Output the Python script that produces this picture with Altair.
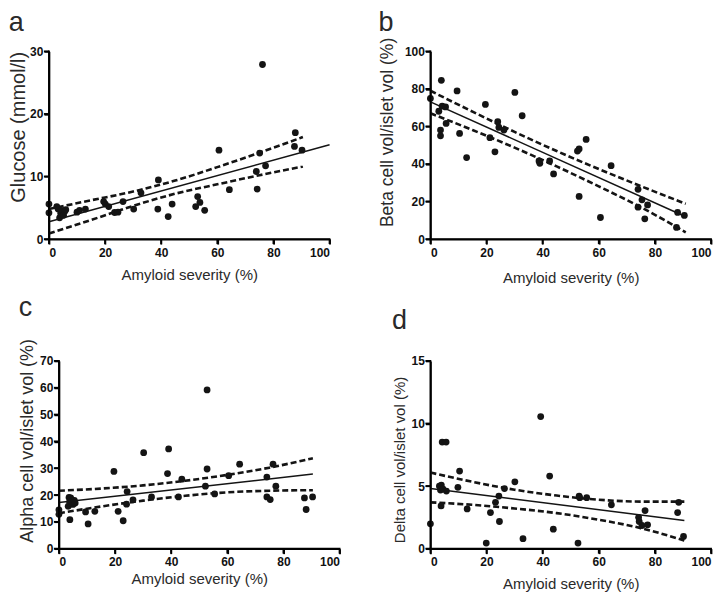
import altair as alt
import pandas as pd

FONT = "Liberation Sans"
INK = "#141414"

# ---------------- panel a : glucose ----------------
a_x = [0, 0, 2.8, 3.3, 3.8, 4.2, 4.5, 5.2, 5.6, 6.0, 10.0, 10.9, 13.0, 19.5, 20.1, 21.3,
       23.4, 24.6, 26.4, 30.2, 32.8, 38.8, 39.0, 42.5, 43.9, 52.3, 53.0, 53.8, 55.5,
       60.6, 64.3, 73.9, 74.2, 75.1, 76.1, 77.2, 87.5, 87.8, 90.2]
a_y = [5.6, 4.2, 5.2, 4.8, 3.4, 4.1, 4.6, 3.8, 4.4, 4.7, 4.3, 4.6, 4.8, 6.0, 5.6, 5.2,
       4.25, 4.3, 6.0, 4.8, 7.4, 4.8, 9.45, 3.6, 5.6, 5.2, 6.8, 5.85, 4.6,
       14.2, 7.9, 10.8, 8.0, 13.75, 27.9, 11.7, 14.8, 17.0, 14.2]
a_fit_x = [0, 100]
a_fit_y = [2.76, 15.06]
a_band_x = [0, 15, 30, 45, 60, 75, 90.5]
a_upper = [4.8, 6.2, 7.6, 9.35, 11.5, 13.8, 16.3]
a_lower = [0.9, 3.05, 5.3, 7.25, 8.75, 10.2, 11.6]

# ---------------- panel b : beta cells ----------------
b_x = [0, 3.9, 3.0, 4.2, 5.4, 3.6, 3.6, 5.6, 9.5, 10.4, 12.9, 19.6, 21.2, 23.0, 24.0,
       24.4, 26.2, 30.1, 32.7, 38.7, 39.0, 42.5, 43.9, 52.4, 53.0, 55.5, 53.0, 60.6,
       64.4, 74.0, 74.0, 75.4, 76.4, 77.4, 88.1, 87.7, 90.5]
b_y = [74.9, 84.6, 68.1, 70.8, 70.4, 58.1, 55.0, 61.6, 78.9, 56.3, 43.4, 71.7, 54.0,
       46.5, 62.5, 59.5, 58.1, 78.1, 65.7, 41.6, 40.4, 41.6, 34.7, 46.9, 48.0, 53.1,
       22.7, 11.5, 39.1, 26.5, 17.0, 20.9, 10.8, 18.2, 14.2, 6.2, 12.6]
b_fit_x = [0, 91]
b_fit_y = [73.1, 11.9]
b_band_x = [0, 15, 30, 45, 60, 75, 91]
b_upper = [79.0, 67.9, 57.1, 46.9, 37.3, 28.2, 18.8]
b_lower = [67.0, 58.1, 48.7, 38.7, 28.1, 17.0, 3.6]

# ---------------- panel c : alpha cells ----------------
c_x = [0, 0, 3.3, 3.6, 3.8, 4.2, 4.5, 5.0, 5.5, 5.8, 3.9, 9.5, 10.4, 12.8, 19.6, 21.1,
       22.9, 24.3, 24.1, 26.4, 30.2, 33.0, 38.7, 39.1, 42.6, 43.8, 52.8, 52.8, 52.2,
       55.5, 60.5, 64.4, 74.1, 74.1, 75.3, 76.3, 77.3, 87.5, 88.1, 90.4]
c_y = [14.5, 12.8, 15.8, 19.1, 17.4, 18.9, 17.5, 16.5, 18.0, 17.0, 10.8, 13.7, 9.2,
       13.9, 28.8, 13.9, 10.4, 21.3, 16.6, 18.2, 35.8, 19.3, 28.0, 37.2, 19.3, 25.9,
       59.2, 29.7, 23.3, 20.4, 27.2, 31.5, 26.7, 19.3, 18.3, 31.5, 23.3, 18.9, 14.6, 19.3]
c_fit_x = [0, 90.5]
c_fit_y = [17.25, 27.8]
c_band_x = [0, 15, 30, 45, 60, 75, 90.5]
c_upper = [21.6, 22.4, 23.6, 25.3, 27.5, 30.2, 33.7]
c_lower = [13.2, 15.7, 17.9, 19.7, 21.0, 21.6, 21.8]

# ---------------- panel d : delta cells ----------------
d_x = [0, 4.2, 5.6, 3.2, 3.9, 3.6, 4.5, 5.7, 3.8, 9.8, 10.4, 13.1, 19.9, 21.4, 23.2,
       24.4, 24.6, 26.4, 30.1, 33.0, 39.3, 42.5, 43.8, 52.6, 53.0, 53.2, 55.7, 64.5,
       74.2, 74.4, 75.4, 76.5, 77.4, 88.1, 88.5, 90.2]
d_y = [1.98, 8.52, 8.52, 5.0, 5.08, 4.68, 4.76, 4.6, 3.41, 4.9, 6.2, 3.17, 0.45, 2.88,
       3.7, 4.2, 2.17, 4.8, 5.34, 0.8, 10.55, 5.8, 1.56, 0.45, 4.2, 4.07, 4.07, 3.5,
       2.5, 2.17, 1.85, 3.04, 1.9, 2.88, 3.7, 0.98]
d_fit_x = [0, 90.5]
d_fit_y = [4.81, 2.25]
d_band_x = [0, 15, 30, 45, 60, 75, 90.5]
d_upper = [6.08, 5.34, 4.71, 4.24, 3.91, 3.76, 3.76]
d_lower = [3.70, 3.50, 3.21, 2.84, 2.31, 1.64, 0.65]

x_ticks = [0, 20, 40, 60, 80, 100]
x_title = "Amyloid severity (%)"
HEIGHT = 188
TICK = 5
LW = 1.8

AXIS_COMMON = dict(domain=True, ticks=True, domainColor="#000000", domainWidth=LW,
                   tickColor="#000000", tickWidth=LW, tickSize=TICK, grid=False)


def panel(letter, px, py, fx, fy, bx, up, lo, ymax, ystep, ytitle, ytsize, ytitle_y,
          ytpad, xtpad, title_offset, shift=0):
    width = 281 + shift
    y_ticks = list(range(0, ymax + 1, ystep))
    xs_kw = dict(domain=[0, 100], nice=False)
    if shift:
        xs_kw["range"] = [shift, width]
    xs = alt.Scale(**xs_kw)
    ys = alt.Scale(domain=[0, ymax], nice=False)
    yax_kw = dict(values=y_ticks, title=ytitle, titleFontSize=ytsize, titleY=ytitle_y,
                  titlePadding=ytpad, labelPadding=1, **AXIS_COMMON)
    if shift:
        yax_kw["offset"] = -shift
    X = alt.X("x:Q", scale=xs,
              axis=alt.Axis(values=x_ticks, title=x_title, titlePadding=xtpad,
                            labelPadding=3, **AXIS_COMMON))
    Y = alt.Y("y:Q", scale=ys, axis=alt.Axis(**yax_kw))

    # axis lines and tick marks, also drawn as marks through the same scales
    xdom = alt.Chart(pd.DataFrame({"x": [0, 100], "y": [0, 0]})).mark_line(
        color="#000000", strokeWidth=LW, strokeCap="square").encode(x=X, y=Y)
    ydom = alt.Chart(pd.DataFrame({"x": [0, 0], "y": [0, ymax]})).mark_line(
        color="#000000", strokeWidth=LW, strokeCap="square").encode(x=X, y=Y)
    xtk = alt.Chart(pd.DataFrame({"x": x_ticks})).mark_tick(
        color="#000000", orient="vertical", size=TICK, thickness=LW, opacity=1
    ).encode(x=X, y=alt.value(HEIGHT + TICK / 2))
    ytk = alt.Chart(pd.DataFrame({"y": y_ticks})).mark_tick(
        color="#000000", orient="horizontal", size=TICK, thickness=LW, opacity=1
    ).encode(y=Y, x=alt.value(shift - TICK / 2))

    n = len(bx)
    band = alt.Chart(pd.DataFrame({"x": bx + bx, "y": up + lo,
                                   "g": ["upper"] * n + ["lower"] * n})).mark_line(
        color=INK, strokeWidth=2.6, strokeDash=[6, 3], interpolate="monotone"
    ).encode(x=X, y=Y, detail="g:N")
    fit = alt.Chart(pd.DataFrame({"x": fx, "y": fy})).mark_line(
        color=INK, strokeWidth=1.5).encode(x=X, y=Y)
    pts = alt.Chart(pd.DataFrame({"x": px, "y": py})).mark_circle(
        size=46, color=INK, opacity=1).encode(x=X, y=Y)
    return alt.layer(band, fit, pts, xdom, ydom, xtk, ytk).properties(
        width=width, height=HEIGHT, title=alt.Title(letter, offset=title_offset))


pa = panel("a", a_x, a_y, a_fit_x, a_fit_y, a_band_x, a_upper, a_lower, 30, 10,
           "Glucose (mmol/l)", 20, 75.5, 1, 9, 8.4)
pb = panel("b", b_x, b_y, b_fit_x, b_fit_y, b_band_x, b_upper, b_lower, 100, 20,
           "Beta cell vol/islet vol (%)", 17.5, 80.7, 8, 12, 0.1)
pc = panel("c", c_x, c_y, c_fit_x, c_fit_y, c_band_x, c_upper, c_lower, 70, 10,
           "Alpha cell vol/islet vol (%)", 18, 79.5, 3, 4, 16, shift=10)
pd_ = panel("d", d_x, d_y, d_fit_x, d_fit_y, d_band_x, d_upper, d_lower, 15, 5,
            "Delta cell vol/islet vol (%)", 15, 98.7, 4, 9, 20)

chart = alt.concat(pa, pb, pc, pd_, columns=2, bounds="flush",
                   spacing={"row": 122, "column": 91}).properties(
    padding=0
).configure_view(stroke="transparent").configure_axis(
    labelFont=FONT, labelFontSize=12, labelFontWeight="bold", labelColor="#111111",
    titleFont=FONT, titleFontSize=15, titleFontWeight="normal", titleColor="#2a2a2a"
).configure_title(
    font=FONT, fontSize=27, fontWeight="normal", anchor="start", frame="bounds",
    color="#2a2a2a", baseline="alphabetic"
)

chart.save("out.html", embed_options={"renderer": "svg", "actions": False})
